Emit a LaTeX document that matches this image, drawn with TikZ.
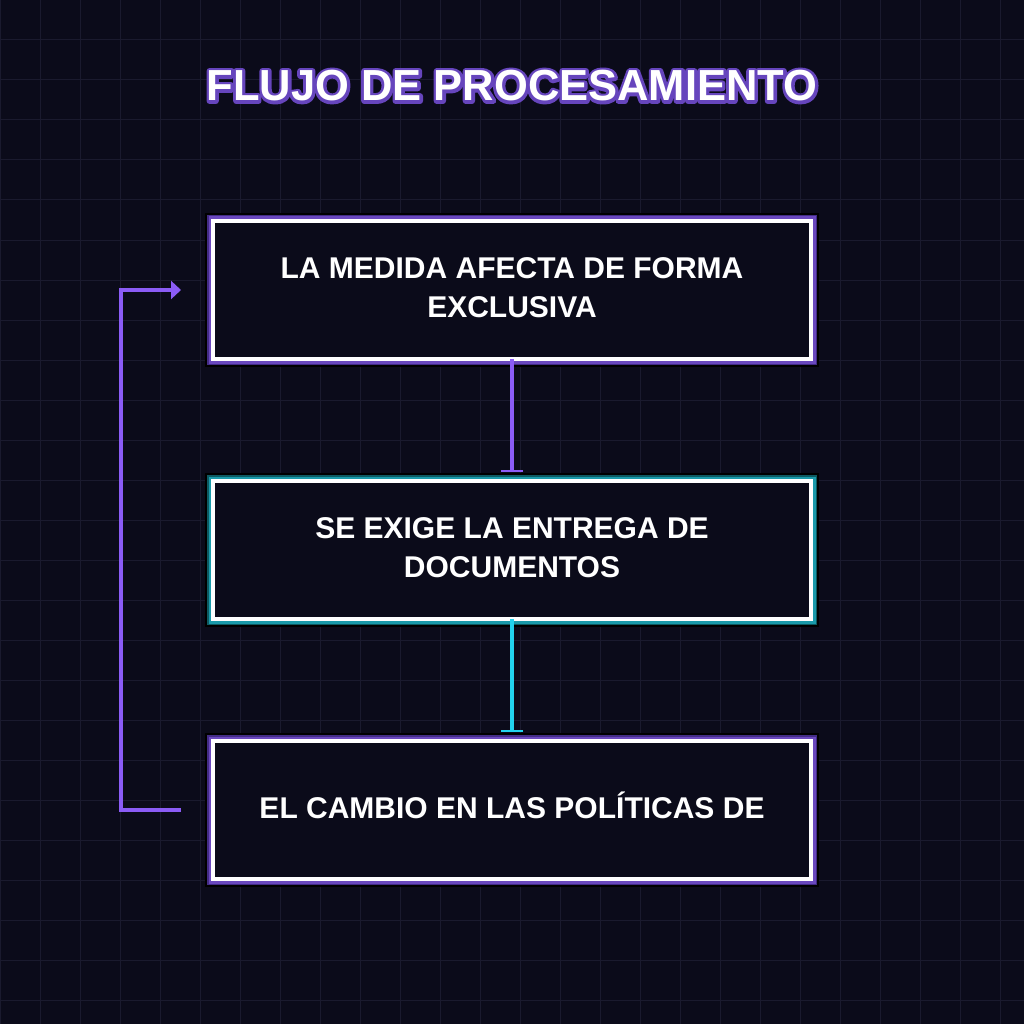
\documentclass[tikz,border=0pt]{standalone}
\usepackage{fontspec}
\setmainfont{Liberation Sans}
\usetikzlibrary{arrows.meta,positioning}

\definecolor{bgcol}{HTML}{0B0B1A}
\definecolor{gridcol}{HTML}{1A1A2E}
\definecolor{violeta}{HTML}{8B5CF6}
\definecolor{violetaclaro}{HTML}{6A48BE}
\definecolor{violetaoscuro}{HTML}{432C86}
\definecolor{cian}{HTML}{22D3EE}
\definecolor{cianclaro}{HTML}{1A9AAA}
\definecolor{cianoscuro}{HTML}{0D5A62}

% contorno del titulo (modo de trazo del texto)
\newcommand\contorno[1]{\special{pdf:literal direct 1 Tr 6 w 1 j 0.40 0.27 0.74 RG}#1\special{pdf:literal direct 0 Tr}}

\begin{document}
\begin{tikzpicture}[x=1pt,y=-1pt,>=latex,
    caja/.style={minimum width=598pt,minimum height=138pt,outer sep=0pt,
      fill=bgcol,draw=white,line width=4.7pt,text=white,align=center,
      text depth=4pt,font=\bfseries\fontsize{30}{39}\selectfont},
    cajavioleta/.style={caja,
      preaction={draw=black,line width=16pt},
      preaction={draw=violetaoscuro,line width=12.6pt},
      preaction={draw=violetaclaro,line width=9pt}},
    cajacian/.style={caja,
      preaction={draw=black,line width=16pt},
      preaction={draw=cianoscuro,line width=12.6pt},
      preaction={draw=cianclaro,line width=9pt}},
    titulofont/.style={font=\bfseries\fontsize{43.5}{48}\selectfont},
    flecha/.style={line width=4pt,-{Bar[width=22pt,line width=2.5pt]}}]
  % fondo y rejilla
  \useasboundingbox (0,0) rectangle (1024,1024);
  \fill[bgcol] (0,0) rectangle (1024,1024);
  \foreach \k in {0,40,...,1000} {
    \draw[gridcol,line width=1pt] (\k,0) -- (\k,1024);
    \draw[gridcol,line width=1pt] (0,\k) -- (1024,\k);
  }
  %
  \node[titulofont,text=violetaclaro] (sombra) at (512,86)
    {\contorno{FLUJO DE PROCESAMIENTO}};
  \node[titulofont,text=white] (titulo) at (sombra.center) {FLUJO DE PROCESAMIENTO};
  %
  \node[cajavioleta] (medida) at (512,290) {LA MEDIDA AFECTA DE FORMA\\EXCLUSIVA};
  \node[cajacian] (docs) at (512,550) {SE EXIGE LA ENTREGA DE\\DOCUMENTOS};
  \node[cajavioleta,text depth=10pt] (cambio) at (512,810) {EL CAMBIO EN LAS POLÍTICAS DE};
  %
  \draw[flecha,violeta] (medida.south) -- ([yshift=9pt]docs.north);
  \draw[flecha,cian] (docs.south) -- ([yshift=9pt]cambio.north);
  \draw[violeta,line width=4pt,-{Triangle[length=10pt,width=18pt]}]
    ([xshift=-32pt]cambio.west) -- ++(-60,0) |- ([xshift=-32pt]medida.west);
\end{tikzpicture}
\end{document}
